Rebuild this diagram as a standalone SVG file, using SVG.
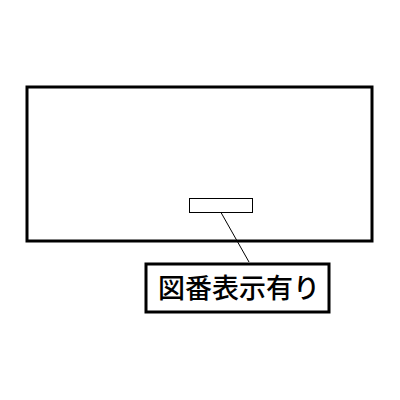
<svg xmlns="http://www.w3.org/2000/svg" width="400" height="400" viewBox="0 0 400 400">
<style>
.thick{fill:#fff;stroke:#000;stroke-width:3}
.thin{fill:#fff;stroke:#000;stroke-width:1}
.lbl{font-family:"Noto Sans CJK JP","Noto Sans CJK SC",sans-serif;font-size:27px;font-weight:500;fill:#000;text-anchor:middle}
</style>
<rect width="400" height="400" fill="#fff"/>
<g id="panel"><rect class="thick" x="27" y="87" width="345" height="154"/></g>
<g id="plate"><rect class="thin" x="189.5" y="198.5" width="63" height="14"/></g>
<g id="connectors"><line x1="221" y1="212.5" x2="249" y2="262" stroke="#000" stroke-width="1"/></g>
<g id="label"><rect class="thick" x="146" y="264" width="183" height="48"/>
<text class="lbl" x="239" y="298">図番表示有り</text></g>
</svg>
